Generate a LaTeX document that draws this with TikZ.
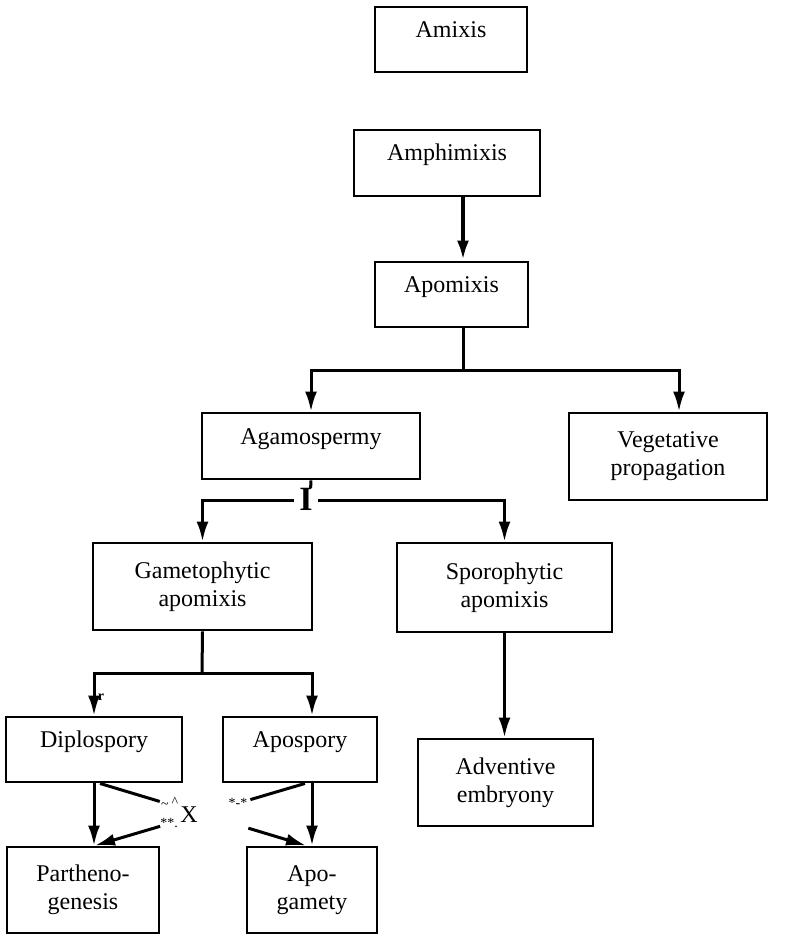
\documentclass[tikz,border=0pt]{standalone}
\usepackage{fontspec}
\setmainfont{Liberation Serif}
\usetikzlibrary{arrows.meta,calc}
\tikzset{
  stage/.style={draw, line width=1.45pt, align=center, inner sep=0pt,
    font=\fontsize{12}{14}\selectfont},
  oneline/.style={stage, text height=8pt, text depth=10pt},
  bar/.style={line width=1.5pt},
  link/.style={bar, -{Latex[length=10pt,width=6pt]}},
  junk/.style={inner sep=0pt, font=\fontsize{7}{7}\selectfont}
}
\begin{document}
\begin{tikzpicture}[x=0.5pt,y=-0.5pt]
  \useasboundingbox (0,0) rectangle (788,935);
  % stages
  \node[oneline, minimum width=76pt, minimum height=32.5pt] (amixis) at (451,39.5) {Amixis};
  \node[oneline, minimum width=93pt, minimum height=33pt] (amphi) at (447,163) {Amphimixis};
  \node[oneline, minimum width=76.5pt, minimum height=32.5pt] (apomixis) at (451.5,294.5) {Apomixis};
  \node[oneline, minimum width=109pt, minimum height=33pt] (agamo) at (311,446) {Agamospermy};
  \node[stage, minimum width=99pt, minimum height=43.5pt] (veget) at (668,456.5) {Vegetative\\propagation};
  \node[stage, minimum width=109.5pt, minimum height=43.5pt] (gameto) at (202.5,586.5) {Gametophytic\\apomixis};
  \node[stage, minimum width=107.5pt, minimum height=44.5pt] (sporo) at (504.5,587.5) {Sporophytic\\apomixis};
  \node[stage, minimum width=87.5pt, minimum height=43.5pt] (advent) at (505.5,782.5) {Adventive\\embryony};
  \node[oneline, minimum width=88pt, minimum height=32.5pt] (diplo) at (94,749.5) {Diplospory};
  \node[oneline, minimum width=77pt, minimum height=32.5pt] (apos) at (300,749.5) {Apospory};
  \node[stage, minimum width=76pt, minimum height=43pt] (partheno) at (83,890) {Partheno-\\genesis};
  \node[stage, minimum width=65pt, minimum height=43pt] (apogam) at (312,890) {Apo-\\gamety};

  % forks
  \coordinate (apofork) at (463,370);
  \coordinate (agafork) at (310,500);
  \coordinate (gamfork) at (202,673);

  \draw[link, line width=2pt] ([xshift=8pt]amphi.south) -- ([xshift=8pt]amphi.south |- apomixis.north);
  \draw[bar] (apomixis.south -| apofork) -- (apofork);
  \draw[link] (apofork) -| (agamo.north);
  \draw[link] (apofork) -| ([xshift=5.5pt]veget.north);

  \draw[bar] (agamo.south) -- (agafork);
  \draw[link] (agafork) -| (gameto.north);
  \draw[link] (agafork) -| (sporo.north);
  \node[font=\fontsize{17}{17}\selectfont\bfseries, fill=white, inner xsep=2.5pt, inner ysep=0pt] (barI) at (306,499) {I};

  \draw[link] (sporo.south) -- (sporo.south |- advent.north);

  \draw[bar] (gameto.south) -- (gamfork);
  \draw[link] (gamfork) -| (diplo.north);
  \draw[link] (gamfork) -| ([xshift=6pt]apos.north);
  \node[junk, font=\fontsize{7}{7}\selectfont\bfseries] (tickr) at (101,697) {r};

  % straight down
  \draw[link] (diplo.south) -- (diplo.south |- partheno.north);
  \draw[link] (apogam.north |- apos.south) -- (apogam.north);

  % crossing
  \coordinate (d0) at ([xshift=3pt]diplo.south);
  \coordinate (d1) at ([xshift=-3pt]apogam.north);
  \coordinate (a0) at ([xshift=2.5pt]apos.south);
  \coordinate (a1) at ([xshift=6pt]partheno.north);
  \draw[bar] (d0) -- ($(d0)!0.29!(d1)$);
  \draw[link] ($(d0)!0.72!(d1)$) -- (d1);
  \draw[bar] (a0) -- ($(a0)!0.26!(a1)$);
  \draw[link] ($(a0)!0.69!(a1)$) -- (a1);
  \node[junk] (tilde) at (165,806) {\textasciitilde};
  \node[junk] (hat) at (175,802) {\textasciicircum};
  \node[inner sep=0pt, font=\fontsize{12}{12}\selectfont] (xmark) at (189,815) {X};
  \node[junk] (stars) at (169,823) {**.};
  \node[junk] (dash) at (238,803) {*-*};
\end{tikzpicture}
\end{document}
